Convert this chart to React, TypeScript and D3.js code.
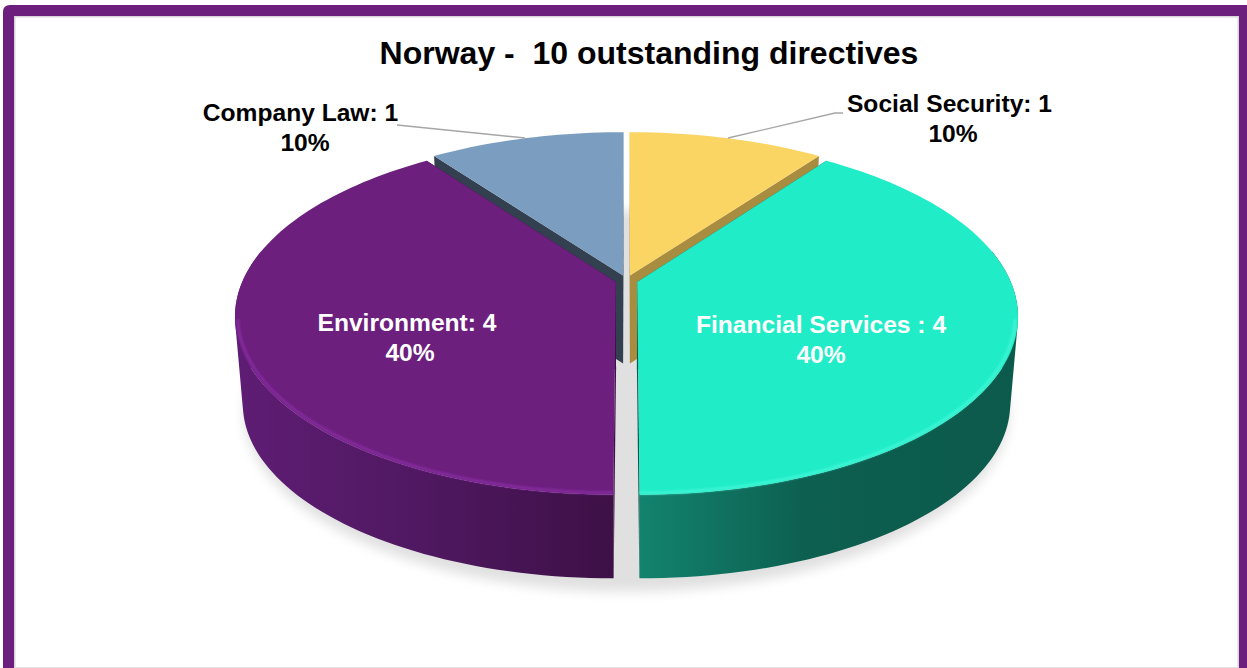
import React from "react";
import * as d3 from "d3";

const categories = ["Social Security", "Financial Services", "Environment", "Company Law"];
const values = [1, 4, 4, 1];
const percents = ["10%", "40%", "40%", "10%"];
const titleText = "Norway -  10 outstanding directives";
const topColors = ["#fad564", "#20ecc8", "#6c1f7d", "#7b9dc0"];
const cutColors = ["#a88d40", "#0c5a4c", "#3d1046", "#33404f"];
const rimColors = ["#fad564", "#3ef5d4", "#842c9e", "#7b9dc0"];
const W = 1247, H = 668;
const cx = 626.5, cy = 280.4, R = 373, A = 172, K = 0.188, EXPLODE = 0.03;
const DEPTH = 88, BOTTOM_SCALE = 0.98;

type P = [number, number];
function proj(X: number, Y: number, bottom = false): P {
  const w = 1 - K * Y;
  const s = bottom ? BOTTOM_SCALE : 1;
  return [cx + (s * R * X) / w, cy + (bottom ? DEPTH : 0) + (s * A * Y) / w];
}
const line = d3.line<P>().x((d) => d[0]).y((d) => d[1]);
const pieAngles = d3.pie<number>().sort(null).startAngle(0).endAngle(2 * Math.PI)(values);

function slicePoint(mid: number, ang: number, r: number, bottom = false): P {
  const ox = Math.sin(mid) * EXPLODE, oy = -Math.cos(mid) * EXPLODE;
  return proj(ox + r * Math.sin(ang), oy - r * Math.cos(ang), bottom);
}
function arcAngles(a0: number, a1: number, step = Math.PI / 120): number[] {
  const n = Math.max(2, Math.ceil((a1 - a0) / step));
  return d3.range(n + 1).map((i) => a0 + ((a1 - a0) * i) / n);
}

function Slice({ index }: { index: number }) {
  const p = pieAngles[index];
  const a0 = p.startAngle, a1 = p.endAngle, mid = (a0 + a1) / 2;
  const angles = arcAngles(a0, a1);
  const apexT = slicePoint(mid, 0, 0), apexB = slicePoint(mid, 0, 0, true);
  const top = [apexT, ...angles.map((a) => slicePoint(mid, a, 1))];
  const front = angles.filter((a) => a > Math.PI * 0.44 && a < Math.PI * 1.56);
  // One path made of same-wound quads, so the wall has no seams and no holes at the silhouette.
  const wallPath = front
    .slice(1)
    .map((a, i) => {
      const b = front[i];
      const q: P[] = [slicePoint(mid, b, 1), slicePoint(mid, a, 1), slicePoint(mid, a, 1, true), slicePoint(mid, b, 1, true)];
      if (d3.polygonArea(q) < 0) q.reverse();
      return line(q) + "Z";
    })
    .join("");
  const cut = (a: number) => {
    const q: P[] = [apexT, slicePoint(mid, a, 1), slicePoint(mid, a, 1, true), apexB];
    return <path d={line(q) + "Z"} fill={cutColors[index]} />;
  };
  const rimVisible = angles.filter((a) => a > Math.PI * 0.56 && a < Math.PI * 1.44);
  return (
    <g>
      {wallPath && <path d={wallPath} fill={`url(#wall${index})`} fillRule="nonzero" />}
      {cut(a0)}
      {cut(a1)}
      <path d={line(top) + "Z"} fill={topColors[index]} />
      {rimVisible.length > 1 && (
        <path
          d={line(rimVisible.map((a) => slicePoint(mid, a, 0.993))) as string}
          fill="none"
          stroke={rimColors[index]}
          strokeWidth={3}
          filter="url(#soft)"
        />
      )}
    </g>
  );
}

type Lab = { x: number; y: number; text: string; fill: string };
const labels: Lab[] = [
  { x: 949.5, y: 112, text: `${categories[0]}: ${values[0]}`, fill: "#000" },
  { x: 953, y: 142, text: percents[0], fill: "#000" },
  { x: 821, y: 333, text: `${categories[1]} : ${values[1]}`, fill: "#fff" },
  { x: 821, y: 363, text: percents[1], fill: "#fff" },
  { x: 407, y: 331, text: `${categories[2]}: ${values[2]}`, fill: "#fff" },
  { x: 410, y: 361, text: percents[2], fill: "#fff" },
  { x: 300.5, y: 121, text: `${categories[3]}: ${values[3]}`, fill: "#000" },
  { x: 305, y: 151, text: percents[3], fill: "#000" },
];
const leaderRight: P[] = [[843, 113], [835, 113], [728, 138]];
const leaderLeft: P[] = [[397, 125], [525, 138]];

export default function App() {
  const shadow = arcAngles(0, 2 * Math.PI).map((a) => {
    const c = -Math.cos(a);
    return proj(1.015 * Math.sin(a), (c < 0 ? 1.2 : 1) * c + 0.06, true);
  });
  return (
    <svg
      width={W}
      height={H}
      viewBox={`0 0 ${W} ${H}`}
      style={{ position: "absolute", left: 0, top: 0, display: "block", fontFamily: "'Liberation Sans', Arial, sans-serif" }}
    >
      <defs>
        <filter id="blur" x="-10%" y="-10%" width="120%" height="120%">
          <feGaussianBlur stdDeviation="6" />
        </filter>
        <filter id="soft" x="-5%" y="-5%" width="110%" height="110%">
          <feGaussianBlur stdDeviation="0.9" />
        </filter>
        <linearGradient id="wall2" gradientUnits="userSpaceOnUse" x1={240} x2={614} y1={0} y2={0}>
          <stop offset="0" stopColor="#5e1d74" />
          <stop offset="0.5" stopColor="#4f1860" />
          <stop offset="1" stopColor="#3d1046" />
        </linearGradient>
        <linearGradient id="wall1" gradientUnits="userSpaceOnUse" x1={639} x2={1015} y1={0} y2={0}>
          <stop offset="0" stopColor="#12836e" />
          <stop offset="0.45" stopColor="#0d5f50" />
          <stop offset="1" stopColor="#0c5a4c" />
        </linearGradient>
        <linearGradient id="wall0" gradientUnits="userSpaceOnUse" x1={0} x2={W} y1={0} y2={0}><stop stopColor="#a88d40" /></linearGradient>
        <linearGradient id="wall3" gradientUnits="userSpaceOnUse" x1={0} x2={W} y1={0} y2={0}><stop stopColor="#33404f" /></linearGradient>
      </defs>
      <rect width={W} height={H} fill="#fff" />
      <path d={`M14.5 668 V16.5 H1238.5 V668`} fill="none" stroke="#d8d4da" strokeWidth={2} />
      <path d={`M3 668 V12 Q3 5 10 5 H1247 V16 H14 V668 Z`} fill="#6c1f7d" />
      <path d={`M1239 16 H1247 V668 H1239 Z`} fill="#6c1f7d" />
      <line x1={14} x2={1239} y1={667.5} y2={667.5} stroke="#e2e2e2" strokeWidth={1} />

      <path d={line(shadow) + "Z"} fill="#e0e0e0" filter="url(#blur)" />
      <Slice index={3} />
      <Slice index={0} />
      <Slice index={2} />
      <Slice index={1} />

      <path d={line(leaderRight) as string} fill="none" stroke="#a6a6a6" strokeWidth={1.3} />
      <path d={line(leaderLeft) as string} fill="none" stroke="#a6a6a6" strokeWidth={1.3} />

      <text x={649} y={64} textAnchor="middle" fontSize={32} fontWeight={700} fill="#000" style={{ whiteSpace: "pre" }}>
        {titleText}
      </text>
      {labels.map((l, i) => (
        <text key={i} x={l.x} y={l.y} textAnchor="middle" fontSize={24.6} fontWeight={700} fill={l.fill}>
          {l.text}
        </text>
      ))}
    </svg>
  );
}
